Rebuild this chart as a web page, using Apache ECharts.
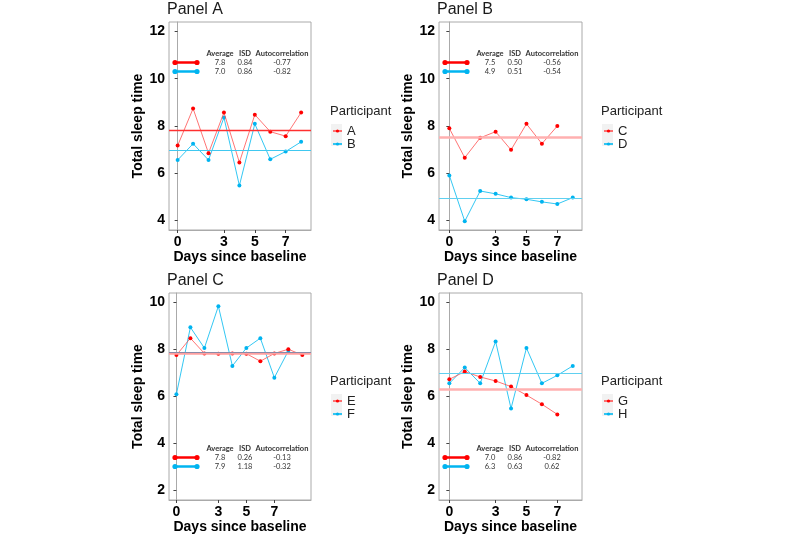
<!DOCTYPE html>
<html>
<head>
<meta charset="utf-8">
<script src="https://cdn.jsdelivr.net/npm/echarts@6/dist/echarts.min.js"></script>
<style>html,body{margin:0;padding:0;background:#fff}#c{width:800px;height:535px}</style>
</head>
<body>
<div id="c"></div>
<script>
// ---- data ----
const panelTitles = ['Panel A', 'Panel B', 'Panel C', 'Panel D'];
const participants = [['A', 'B'], ['C', 'D'], ['E', 'F'], ['G', 'H']];
const sleepA = [7.17, 8.74, 6.85, 8.57, 6.46, 8.48, 7.76, 7.57, 8.57];
const sleepB = [6.56, 7.25, 6.56, 8.36, 5.48, 8.09, 6.59, 6.92, 7.33];
const sleepC = [7.90, 6.66, 7.50, 7.76, 6.99, 8.09, 7.25, 8.00];
const sleepD = [5.91, 3.97, 5.25, 5.13, 4.97, 4.90, 4.79, 4.70, 4.97];
const sleepE = [7.76, 8.48, 7.83, 7.82, 7.83, 7.82, 7.50, 7.83, 8.01, 7.76];
const sleepF = [6.10, 8.94, 8.06, 9.84, 7.30, 8.06, 8.48, 6.80, 7.94];
const sleepG = [6.73, 7.06, 6.83, 6.66, 6.42, 6.06, 5.67, 5.24];
const sleepH = [6.56, 7.23, 6.56, 8.34, 5.49, 8.06, 6.56, 6.90, 7.30];
const meanLines = [[7.81, 6.99], [7.53, 4.94], [7.83, 7.87], [6.29, 7.00]];
const xTicks = [0, 3, 5, 7];
const yTicksTop = [4, 6, 8, 10, 12];
const yTicksBottom = [2, 4, 6, 8, 10];
const tableHeader = ['Average', 'ISD', 'Autocorrelation'];
const tableA = [['7.8', '0.84', '-0.77'], ['7.0', '0.86', '-0.82']];
const tableB = [['7.5', '0.50', '-0.56'], ['4.9', '0.51', '-0.54']];
const tableC = [['7.8', '0.26', '-0.13'], ['7.9', '1.18', '-0.32']];
const tableD = [['7.0', '0.86', '-0.82'], ['6.3', '0.63', '0.62']];

// ---- layout ----
const series1 = [sleepA, sleepC, sleepE, sleepG];
const series2 = [sleepB, sleepD, sleepF, sleepH];
const tables = [tableA, tableB, tableC, tableD];
const grids = [
  {left: 169, top: 22, width: 142, height: 208},
  {left: 439, top: 22, width: 143, height: 208},
  {left: 169, top: 293, width: 142, height: 207},
  {left: 439, top: 293, width: 143, height: 207}
];
const xRanges = [[-0.56, 8.64], [-0.67, 8.6], [-0.53, 9.62], [-0.67, 8.6]];
const yRanges = [[3.6, 12.4], [3.6, 12.4], [1.6, 10.4], [1.6, 10.4]];
const yTickSets = [yTicksTop, yTicksTop, yTicksBottom, yTicksBottom];
const RED = '#ff0000', BLUE = '#00b4f0';
const redMeanStyles = [{color: '#ff3030', width: 1.3}, {color: '#ffb0b0', width: 2.5}, {color: '#ffa0a0', width: 2.5}, {color: '#ffb0b0', width: 2.5}];
const blueMeanStyles = [{color: '#40c8f0', width: 1}, {color: '#60d0f0', width: 1}, {color: '#8a8aa8', width: 1}, {color: '#60d0f0', width: 1}];

const axisFont = {fontFamily: 'Liberation Sans, Arial, sans-serif'};
const xAxes = [], yAxes = [], series = [], titles = [], legends = [], graphics = [];

for (let p = 0; p < 4; p++) {
  const g = grids[p];
  xAxes.push({
    gridIndex: p, type: 'value', min: xRanges[p][0], max: xRanges[p][1],
    axisLine: {show: true, lineStyle: {color: '#aaaaaa', width: 1}},
    splitLine: {show: false},
    axisTick: {show: true, customValues: xTicks, length: 3, lineStyle: {color: '#444'}},
    axisLabel: Object.assign({customValues: xTicks, fontSize: 14, fontWeight: 'bold', color: '#000', margin: 5}, axisFont),
    name: 'Days since baseline', nameLocation: 'middle', nameGap: 18,
    nameTextStyle: Object.assign({fontSize: 14, fontWeight: 'bold', color: '#000'}, axisFont)
  });
  yAxes.push({
    gridIndex: p, type: 'value', min: yRanges[p][0], max: yRanges[p][1],
    axisLine: {show: true, lineStyle: {color: '#aaaaaa', width: 1}},
    splitLine: {show: false},
    axisTick: {show: true, customValues: yTickSets[p], length: 3, lineStyle: {color: '#444'}},
    axisLabel: Object.assign({customValues: yTickSets[p], fontSize: 14, fontWeight: 'bold', color: '#000', margin: 4}, axisFont),
    name: 'Total sleep time', nameLocation: 'middle', nameGap: 22,
    nameTextStyle: Object.assign({fontSize: 14, fontWeight: 'bold', color: '#000'}, axisFont)
  });
  const mk = (vals, name, lineColor, ptColor, mean, mStyle, z) => ({
    type: 'line', name: name, xAxisIndex: p, yAxisIndex: p, z: z,
    data: vals.map((v, i) => [i, v]),
    symbol: 'circle', symbolSize: 4, showSymbol: true,
    lineStyle: {width: 1, color: lineColor},
    itemStyle: {color: ptColor},
    emphasis: {disabled: true},
    animation: false,
    markLine: {
      silent: true, symbol: 'none', label: {show: false}, animation: false,
      lineStyle: {type: 'solid', color: mStyle.color, width: mStyle.width},
      data: [{yAxis: mean}]
    }
  });
  series.push(mk(series1[p], participants[p][0], 'rgba(255,70,70,0.75)', RED, meanLines[p][0], redMeanStyles[p], 3));
  series.push(mk(series2[p], participants[p][1], 'rgba(0,185,240,0.8)', BLUE, meanLines[p][1], blueMeanStyles[p], 2));

  titles.push({text: panelTitles[p], left: g.left - 2, top: g.top - 20, padding: 0,
    textStyle: Object.assign({fontSize: 16, fontWeight: 'normal', color: '#1a1a1a'}, axisFont)});
  const lx = p % 2 === 0 ? 330 : 601;
  const ly = p < 2 ? 105 : 375;
  titles.push({text: 'Participant', left: lx, top: ly, padding: 0,
    textStyle: Object.assign({fontSize: 13, fontWeight: 'normal', color: '#222'}, axisFont)});
  legends.push({
    data: participants[p], left: lx + 2, top: ly + 19.5, orient: 'vertical', padding: 0,
    itemWidth: 9, itemHeight: 4, itemGap: 0, selectedMode: false,
    textStyle: Object.assign({fontSize: 13, color: '#222', lineHeight: 11}, axisFont)
  });
  graphics.push({type: 'rect', left: lx + 1, top: ly + 19, z: -1,
    shape: {width: 11, height: 22}, style: {fill: '#f2f2f2'}});

  // statistics table
  const tb = tables[p];
  const isTop = p < 2;
  const hy = isTop ? g.top + 32 : g.top + 156;
  const lineX0 = g.left + 6, lineX1 = g.left + 28;
  const colX = [g.left + 51, g.left + 76, g.left + 113];
  const tf = 'Lato, Noto Sans, sans-serif';
  for (let c = 0; c < 3; c++) {
    graphics.push({type: 'text', x: colX[c], y: hy, z: 10,
      style: {text: tableHeader[c], fontSize: 7.5, fontWeight: 'bold', fontFamily: tf, fill: '#333', align: 'center', verticalAlign: 'middle'}});
  }
  const rowColors = [RED, BLUE];
  for (let r = 0; r < 2; r++) {
    const ry = hy + 8.5 + r * 9;
    graphics.push({type: 'line', z: 10, shape: {x1: lineX0, y1: ry, x2: lineX1, y2: ry}, style: {stroke: rowColors[r], lineWidth: 2.5}});
    graphics.push({type: 'circle', z: 10, shape: {cx: lineX0, cy: ry, r: 2.6}, style: {fill: rowColors[r]}});
    graphics.push({type: 'circle', z: 10, shape: {cx: lineX1, cy: ry, r: 2.6}, style: {fill: rowColors[r]}});
    for (let c = 0; c < 3; c++) {
      graphics.push({type: 'text', x: colX[c], y: ry, z: 10,
        style: {text: tb[r][c], fontSize: 7.5, fontFamily: tf, fill: '#333', align: 'center', verticalAlign: 'middle'}});
    }
  }
}

const chart = echarts.init(document.getElementById('c'), null, {renderer: 'canvas'});
chart.setOption({
  animation: false,
  backgroundColor: '#ffffff',
  title: titles,
  legend: legends,
  grid: grids.map(g => Object.assign({show: true, borderColor: '#aaaaaa', borderWidth: 1, backgroundColor: '#fff'}, g)),
  xAxis: xAxes,
  yAxis: yAxes,
  series: series,
  graphic: graphics
});
</script>
</body>
</html>
